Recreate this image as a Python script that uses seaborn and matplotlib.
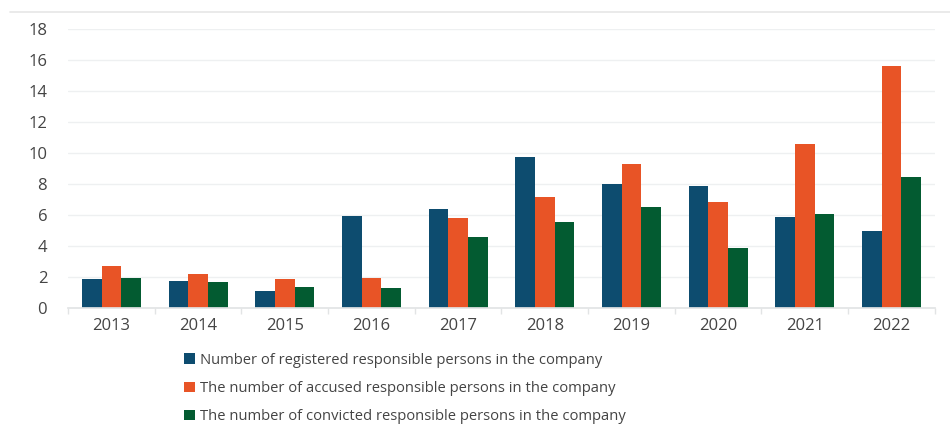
import pandas as pd
import matplotlib.pyplot as plt
import seaborn as sns
from matplotlib.patches import Patch
from matplotlib.lines import Line2D

# Data
years = ["2013", "2014", "2015", "2016", "2017", "2018", "2019", "2020", "2021", "2022"]
registered = [1.84, 1.73, 1.10, 5.93, 6.38, 9.72, 7.98, 7.85, 5.86, 4.94]
accused = [2.74, 2.18, 1.88, 1.94, 5.80, 7.16, 9.29, 6.81, 10.58, 15.62]
convicted = [1.94, 1.66, 1.36, 1.32, 4.57, 5.52, 6.53, 3.84, 6.08, 8.47]
series_names = [
    "Number of registered responsible persons in the company",
    "The number of accused responsible persons in the company",
    "The number of convicted responsible persons in the company",
]
colors = ["#0D4C6F", "#E85426", "#035B31"]

rows = []
for name, vals in zip(series_names, [registered, accused, convicted]):
    for y, v in zip(years, vals):
        rows.append({"year": y, "value": v, "series": name})
df = pd.DataFrame(rows)

sns.set_theme(style="white")
plt.rcParams["font.family"] = ["Open Sans", "DejaVu Sans"]

fig = plt.figure(figsize=(9.5, 4.26), dpi=100)
ax = fig.add_axes([0.0716, 0.277, 0.9124, 0.655])

sns.barplot(data=df, x="year", y="value", hue="series", palette=colors,
            width=0.68, gap=0, saturation=1, linewidth=0, ax=ax, legend=False)

ax.set_ylim(0, 18)
ax.set_yticks(range(0, 19, 2))
ax.set_xlim(-0.5, len(years) - 0.5)
ax.set_xlabel("")
ax.set_ylabel("")
ax.yaxis.grid(True, color="#EEF0F1", linewidth=1)
ax.set_axisbelow(True)
for s in ["top", "right", "left"]:
    ax.spines[s].set_visible(False)
ax.spines["bottom"].set_color("#E2E4E5")

# small ticks between categories on the x axis
ax.set_xticks([i + 0.5 for i in range(-1, len(years))], minor=True)
ax.tick_params(axis="x", which="minor", length=4, color="#E2E4E5", bottom=True)
ax.tick_params(axis="x", which="major", length=0, pad=7, labelsize=12, labelcolor="#444444")
ax.tick_params(axis="y", length=0, pad=15, labelsize=12, labelcolor="#444444")

handles = [Patch(facecolor=c, edgecolor="none") for c in colors]
fig.legend(handles, series_names, loc="upper left", bbox_to_anchor=(0.188, 0.186),
           frameon=False, handlelength=0.72, handleheight=0.72, handletextpad=0.35,
           labelspacing=0.9, fontsize=10.6, labelcolor="#444444", borderaxespad=0)

# faint frame line at the top of the picture
fig.add_artist(Line2D([0.01, 1.0], [0.972, 0.972], color="#E6E6E6", linewidth=1.2))

fig.savefig("out.png", dpi=100)
